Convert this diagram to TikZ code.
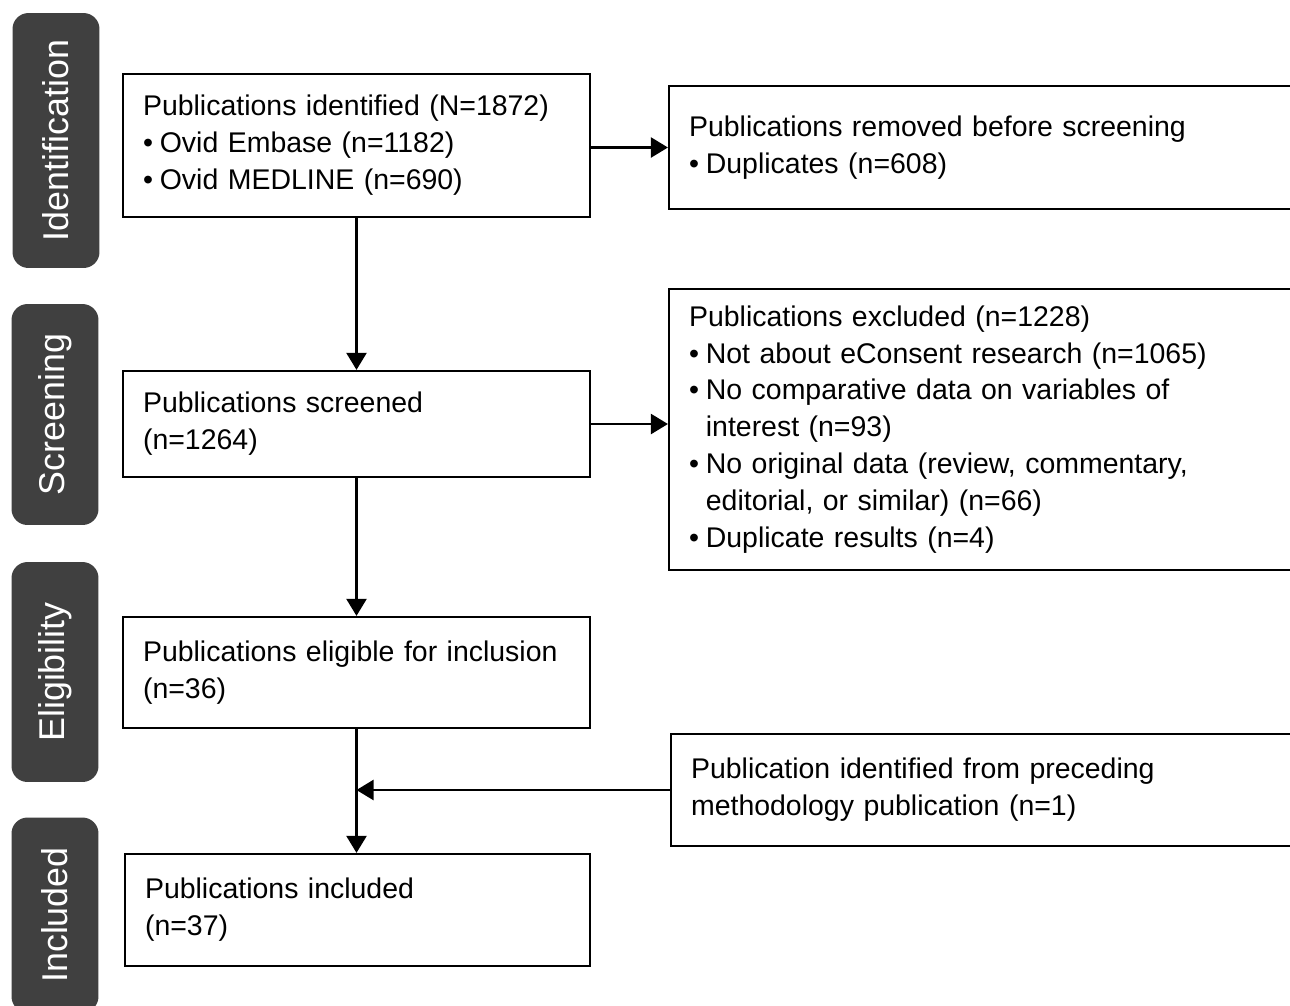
\documentclass[tikz,border=0pt]{standalone}
\usepackage{fontspec}
\setmainfont{Liberation Sans}
\usetikzlibrary{positioning}
\usetikzlibrary{arrows.meta}
\definecolor{phasegray}{RGB}{64,64,64}
\newcommand{\bul}{\textbullet\kern0.24em}
\newcommand{\ind}{\hphantom{\textbullet\kern0.24em}}
\tikzset{
  box/.style={draw, rectangle, line width=1.3pt, align=left, inner xsep=0.4cm,
    font=\fontsize{16.2pt}{21pt}\selectfont},
  phase/.style={rectangle, rounded corners=0.32cm, fill=phasegray, text=white,
    rotate=90, minimum height=1.74cm, font=\fontsize{20.4pt}{24pt}\selectfont},
  arr/.style={line width=1.3pt, -{Triangle[length=0.34cm,width=0.4cm]}}
}

\begin{document}
\begin{tikzpicture}[x=0.02cm,y=-0.02cm]
 \clip (0,0) rectangle (1290,1005);
 \fill[white] (0,0) rectangle (1290,1005);
 \node[phase, minimum width=5.1cm] (pident) at (56,140.5) {Identification};
 \node[phase, minimum width=4.42cm] (pscreen) at (55,414.5) {Screening};
 \node[phase, minimum width=4.4cm] (pelig) at (55,672) {Eligibility};
 \node[phase, minimum width=3.9cm] (pincl) at (55,915) {Included};

 \node[box, text width=8.54cm, minimum height=2.86cm] (ident) at (356.5,145.5)
   {Publications identified (N=1872)\\\bul Ovid Embase (n=1182)\\\bul Ovid MEDLINE (n=690)};
 \node[box, text width=8.54cm, minimum height=2.12cm] (screened) at (356.5,424)
   {Publications screened\\(n=1264)};
 \node[box, text width=8.54cm, minimum height=2.22cm] (eligible) at (356.5,672.5)
   {Publications eligible for inclusion\\(n=36)};
 \node[box, text width=8.5cm, minimum height=2.24cm] (included) at (357.5,910)
   {Publications included\\(n=37)};

 \node[box, text width=12.22cm, minimum height=2.46cm] (removed) at (994.5,147.5)
   {Publications removed before screening\\\bul Duplicates (n=608)};
 \node[box, text width=12.22cm, minimum height=5.62cm] (excluded) at (994.5,429.5)
   {Publications excluded (n=1228)\\\bul Not about eConsent research (n=1065)\\
    \bul No comparative data on variables of\\\ind interest (n=93)\\
    \bul No original data (review, commentary,\\\ind editorial, or similar) (n=66)\\
    \bul Duplicate results (n=4)};
 \node[box, text width=12.18cm, minimum height=2.24cm] (preceding) at (995.5,790)
   {Publication identified from preceding\\methodology publication (n=1)};

 \draw[arr] (ident.south) -- (screened.north);
 \draw[arr] (screened.south) -- (eligible.north);
 \draw[arr] (eligible.south) -- (included.north -| eligible.south);
 \draw[arr] (ident.east |- removed.west) -- (removed.west);
 \draw[arr] (screened.east) -- (screened.east -| excluded.west);
 \coordinate (join) at (preceding.west -| eligible.south);
 \draw[arr] (preceding.west) -- (join);
\end{tikzpicture}
\end{document}
